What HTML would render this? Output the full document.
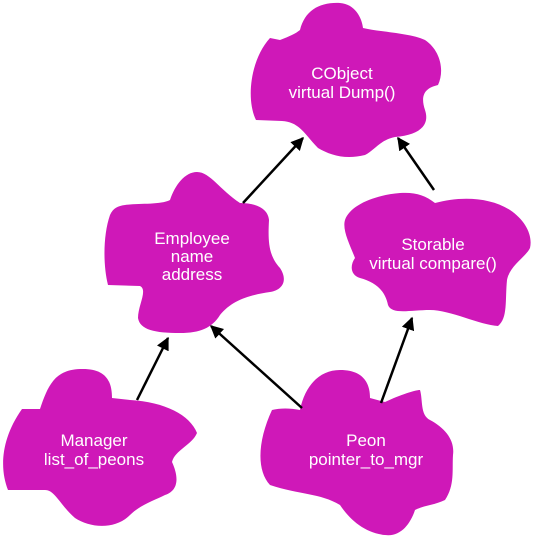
<!DOCTYPE html>
<html><head><style>html,body{margin:0;padding:0;background:#fff}svg{display:block}</style></head>
<body>
<svg width="533" height="538" viewBox="0 0 533 538" xmlns="http://www.w3.org/2000/svg">
<defs>
<marker id="b" viewBox="0 0 10 10" markerWidth="13" markerHeight="13" refX="9" refY="5" orient="auto" markerUnits="userSpaceOnUse"><path d="M0,0 L10,5 L0,10 Z" fill="#000"/></marker></defs>
<g fill="#cf18b8">
<path d="M280,40 C290,36 295,34 300,30 C305,10 320,2 340,3 C355,4 362,18 363,28 C380,32 410,33 425,40 C440,50 445,70 438,85 C425,88 420,95 425,110 C430,125 420,135 395,137 C380,140 375,150 365,155 C345,160 330,155 318,148 C305,135 300,122 282,121 L256,120 C246,100 250,60 270,38 Z"/>
<path d="M125,205 C140,203 160,205 170,200 C175,185 185,172 197,172 C210,172 220,190 240,203 C255,203 268,208 269,220 C268,240 268,255 280,268 C288,280 283,290 270,292 C250,295 232,300 220,315 C212,328 200,333 180,333 C155,333 140,330 138,318 C138,305 148,290 140,286 L108,285 C103,265 103,235 110,215 C113,208 118,206 125,205 Z"/>
<path d="M345,220 C350,205 375,195 400,193 C415,192 425,195 435,203 C460,196 490,197 510,210 C525,220 533,235 530,248 C525,258 510,265 507,280 C505,300 508,318 498,326 C480,325 450,310 430,310 C410,310 392,315 388,305 C385,290 375,282 360,278 C350,275 350,265 355,258 C350,245 342,230 345,220 Z"/>
<path d="M22,409 L40,409 C48,385 55,370 80,369 C105,368 112,380 112,398 L130,400 C165,402 190,415 197,433 C192,445 175,450 172,462 C178,475 180,490 165,495 C155,500 140,505 130,515 C115,530 90,528 75,518 C60,505 55,490 45,490 L8,490 C0,470 0,440 22,409 Z"/>
<path d="M272,410 C280,408 290,408 300,410 C305,385 320,370 340,370 C365,370 370,385 370,398 L385,402 C400,395 415,390 420,390 C423,400 420,415 430,420 C445,428 455,440 453,455 C452,470 455,485 445,500 C435,505 425,505 415,510 C410,525 400,537 385,535 C365,533 350,520 340,505 C320,493 300,495 270,485 C256,470 258,440 272,410 Z"/>
</g>
<g stroke="#000" stroke-width="2.5" marker-end="url(#b)">
<line x1="243" y1="203" x2="303" y2="138"/>
<line x1="434" y1="190" x2="398" y2="138"/>
<line x1="137" y1="400" x2="168" y2="338"/>
<line x1="302" y1="408" x2="211" y2="326"/>
<line x1="381" y1="403" x2="412" y2="318"/>
</g>
<g fill="#fff" font-family="Liberation Sans, sans-serif" font-size="17" text-anchor="middle">
<text x="342" y="79">CObject</text><text x="342" y="98">virtual Dump()</text>
<text x="192" y="244">Employee</text><text x="192" y="262">name</text><text x="192" y="280">address</text>
<text x="433" y="250">Storable</text><text x="433" y="269">virtual compare()</text>
<text x="94" y="446">Manager</text><text x="94" y="465">list_of_peons</text>
<text x="366" y="446">Peon</text><text x="366" y="465">pointer_to_mgr</text>
</g>
</svg>
</body></html>
